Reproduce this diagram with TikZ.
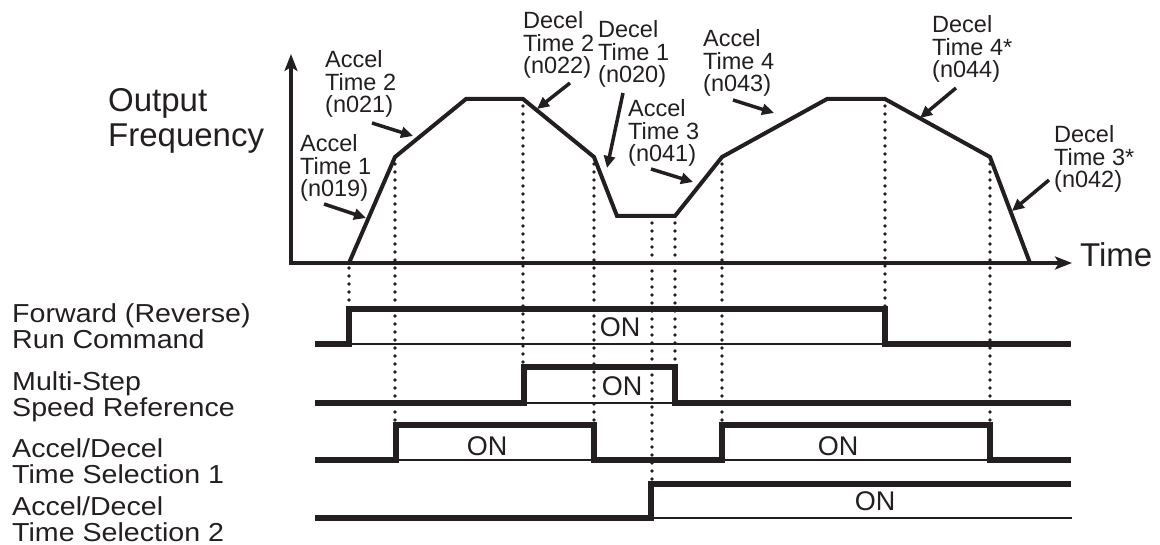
\documentclass[tikz,border=0pt]{standalone}
\usepackage{fontspec}
\setmainfont{Liberation Sans}
\newfontfamily\labfont[FakeStretch=1.1]{Liberation Sans}
\usetikzlibrary{arrows.meta}
\definecolor{ink}{HTML}{231F20}
\tikzset{
 toplab/.style={anchor=base west, inner sep=0pt, align=left, font=\fontsize{23.5}{22.5}\selectfont, text=ink},
 sidelab/.style={anchor=base west, inner sep=0pt, align=left, font=\labfont\fontsize{26}{26}\selectfont, text=ink},
 biglab/.style={anchor=base west, inner sep=0pt, align=left, font=\fontsize{33}{35}\selectfont, text=ink},
 onlab/.style={inner sep=0pt, font=\fontsize{27}{27}\selectfont, text=ink},
 axisline/.style={line width=4pt, draw=ink, line join=miter, {Stealth[length=17pt,width=13pt,inset=4pt]}-{Stealth[length=17pt,width=13pt,inset=4pt]}},
 profile/.style={line width=4pt, draw=ink, line join=miter},
 sigthick/.style={line width=6.5pt, draw=ink, line join=miter},
 sigthin/.style={line width=1.8pt, draw=ink},
 guide/.style={line width=3.6pt, draw=ink, line cap=round, dash pattern=on 0pt off 8pt},
 pointer/.style={line width=3.5pt, draw=ink, -{Triangle[length=12pt,width=11pt]}},
}
\begin{document}
\begin{tikzpicture}[x=1pt,y=-1pt]
\useasboundingbox (0,0) rectangle (1160,545);

% profile points
\coordinate (p0) at (349,263);
\coordinate (p1) at (395,157);
\coordinate (p2) at (466,99);
\coordinate (p3) at (523,99);
\coordinate (p4) at (594,157);
\coordinate (p5) at (617,216);
\coordinate (p5b) at (652,216);
\coordinate (p6) at (675,216);
\coordinate (p7) at (722,157);
\coordinate (p8) at (827,99);
\coordinate (p9) at (885,99);
\coordinate (p10) at (990,157);
\coordinate (p11) at (1030,263);

% guide lines (dotted)
\draw[guide] (349,268) -- (349,306);
\draw[guide] (p1) ++(0,7) -- (395,422);
\draw[guide] (p3) ++(0,7) -- (523,364);
\draw[guide] (p4) ++(0,7) -- (594,422);
\draw[guide] (p5b) ++(0,7) -- (652,481);
\draw[guide] (p6) ++(0,7) -- (675,364);
\draw[guide] (p7) ++(0,7) -- (722,422);
\draw[guide] (p9) ++(0,7) -- (885,306);
\draw[guide] (p10) ++(0,7) -- (990,422);

% axes
\coordinate (ytop) at (291,54);
\coordinate (orig) at (291,263);
\coordinate (xend) at (1072,263);
\draw[axisline] (ytop) -- (orig) -- (xend);

% frequency profile
\draw[profile] (p0) -- (p1) -- (p2) -- (p3) -- (p4) -- (p5) -- (p6) -- (p7) -- (p8) -- (p9) -- (p10) -- (p11);

% axis labels (base anchor = last line's baseline)
\node[biglab] (lout) at (108,147) {Output\\Frequency};
\node[biglab] (ltime) at (1080,267) {Time};

% segment labels
\node[toplab] (a1) at (300,197) {Accel\\Time 1\\(n019)};
\node[toplab] (a2) at (325,113) {Accel\\Time 2\\(n021)};
\node[toplab] (d2) at (523,74) {Decel\\Time 2\\(n022)};
\node[toplab] (d1) at (598,83) {Decel\\Time 1\\(n020)};
\node[toplab] (a3) at (628,162) {Accel\\Time 3\\(n041)};
\node[toplab] (a4) at (703,92) {Accel\\Time 4\\(n043)};
\node[toplab] (d4) at (932,78) {Decel\\Time 4*\\(n044)};
\node[toplab] (d3) at (1054,188) {Decel\\Time 3*\\(n042)};

% pointer arrows
\coordinate (a1s) at (324,204); \coordinate (a1e) at (366,218);
\coordinate (a2s) at (372,123); \coordinate (a2e) at (413,136);
\coordinate (d2s) at (570,83);  \coordinate (d2e) at (537,109);
\coordinate (d1s) at (623,93);  \coordinate (d1e) at (607,168);
\coordinate (a3s) at (651,169); \coordinate (a3e) at (693,182);
\coordinate (a4s) at (733,100); \coordinate (a4e) at (774,113);
\coordinate (d4s) at (956,88);  \coordinate (d4e) at (920,118);
\coordinate (d3s) at (1049,180); \coordinate (d3e) at (1012,211);
\draw[pointer] (a1s) -- (a1e);
\draw[pointer] (a2s) -- (a2e);
\draw[pointer] (d2s) -- (d2e);
\draw[pointer] (d1s) -- (d1e);
\draw[pointer] (a3s) -- (a3e);
\draw[pointer] (a4s) -- (a4e);
\draw[pointer] (d4s) -- (d4e);
\draw[pointer] (d3s) -- (d3e);

% signal labels
\node[sidelab] (s1) at (12,349) {Forward (Reverse)\\Run Command};
\node[sidelab] (s2) at (12,417) {Multi-Step\\Speed Reference};
\node[sidelab] (s3) at (12,483) {Accel/Decel\\Time Selection 1};
\node[sidelab] (s4) at (12,541) {Accel/Decel\\Time Selection 2};

% row 1: Forward run
\draw[sigthin] (349,344) -- (885,344);
\draw[sigthick] (315,344) -- (349,344) -- (349,309) -- (885,309) -- (885,344) -- (1071,344);
\node[onlab] (on1) at (620,327) {ON};

% row 2: Multi-step
\draw[sigthin] (524,403) -- (675,403);
\draw[sigthick] (315,403) -- (524,403) -- (524,367) -- (675,367) -- (675,403) -- (1071,403);
\node[onlab] (on2) at (622,386) {ON};

% row 3: Accel/Decel sel 1
\draw[sigthin] (396,460) -- (594,460);
\draw[sigthin] (722,460) -- (990,460);
\draw[sigthick] (315,460) -- (396,460) -- (396,425) -- (594,425) -- (594,460) -- (722,460) -- (722,425) -- (990,425) -- (990,460) -- (1071,460);
\node[onlab] (on3) at (487,446) {ON};
\node[onlab] (on4) at (838,446) {ON};

% row 4: Accel/Decel sel 2
\draw[sigthin] (651,518) -- (1072,518);
\draw[sigthick] (315,518) -- (651,518) -- (651,484) -- (1071,484);
\node[onlab] (on5) at (875,501) {ON};
\end{tikzpicture}
\end{document}
